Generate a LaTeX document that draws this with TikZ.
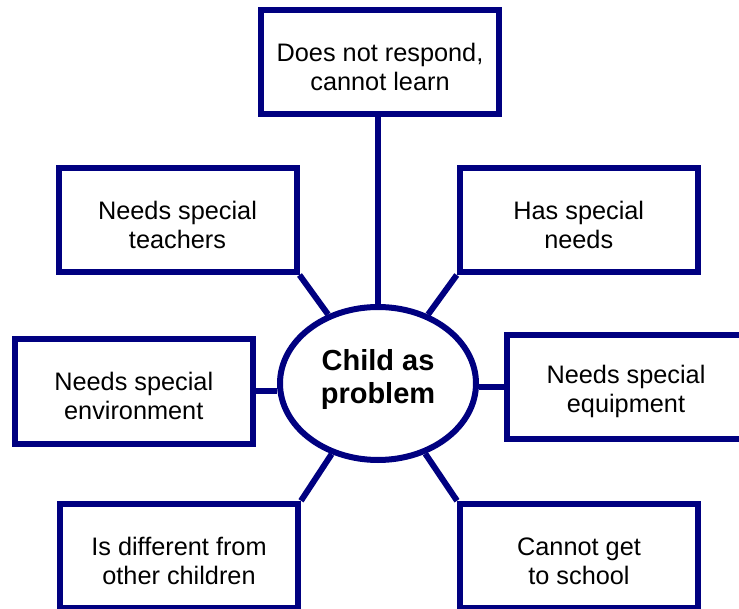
\documentclass[tikz,border=0pt]{standalone}
\usepackage{fontspec}
\setmainfont{Liberation Sans}
\usetikzlibrary{shapes.geometric}
\definecolor{navyline}{HTML}{000080}
\newcommand{\mytopgap}{\rule{0pt}{28pt}}
\newcommand{\mybotgap}{\rule[-15pt]{0pt}{15pt}}
\tikzset{
  box/.style={draw=navyline, line width=6pt, rectangle, inner sep=0pt,
    minimum width=238pt, minimum height=104pt, align=center,
    font=\fontsize{25.3}{29}\selectfont, text=black},
  hub/.style={draw=navyline, line width=6pt, ellipse, inner sep=0pt,
    minimum width=196pt, minimum height=153pt, align=center,
    font=\fontsize{29}{33}\selectfont\bfseries, text=black},
  link/.style={draw=navyline, line width=6pt}
}
\begin{document}
\begin{tikzpicture}[x=1pt,y=-1pt]
\useasboundingbox (0,0) rectangle (739,609);
\fill[white] (0,0) rectangle (739,609);
\node[hub] (child) at (378,383.5) {Child as\\problem\mybotgap};
\node[box] (top) at (380,62) {\mytopgap Does not respond,\\cannot learn};
\node[box] (teach) at (177.5,220) {\mytopgap Needs special\\teachers};
\node[box] (has) at (578.75,220) {\mytopgap Has special\\needs};
\node[box] (env) at (133.75,391.5) {\mytopgap Needs special\\environment};
\node[box] (equip) at (626,386.75) {\mytopgap Needs special\\equipment};
\node[box] (diff) at (179,555.75) {\mytopgap Is different from\\other children};
\node[box] (school) at (579,555.75) {\mytopgap Cannot get\\to school};
\draw[link] (child.north) -- (child.north |- top.south);
\draw[link] (teach.south east) -- (child);
\draw[link] (has.south west) -- (child);
\draw[link] (env.east) -- (env.east -| child.west);
\draw[link] (equip.west) -- (equip.west -| child.east);
\draw[link] (diff.north east) -- (child);
\draw[link] (school.north west) -- (child);
\end{tikzpicture}
\end{document}
